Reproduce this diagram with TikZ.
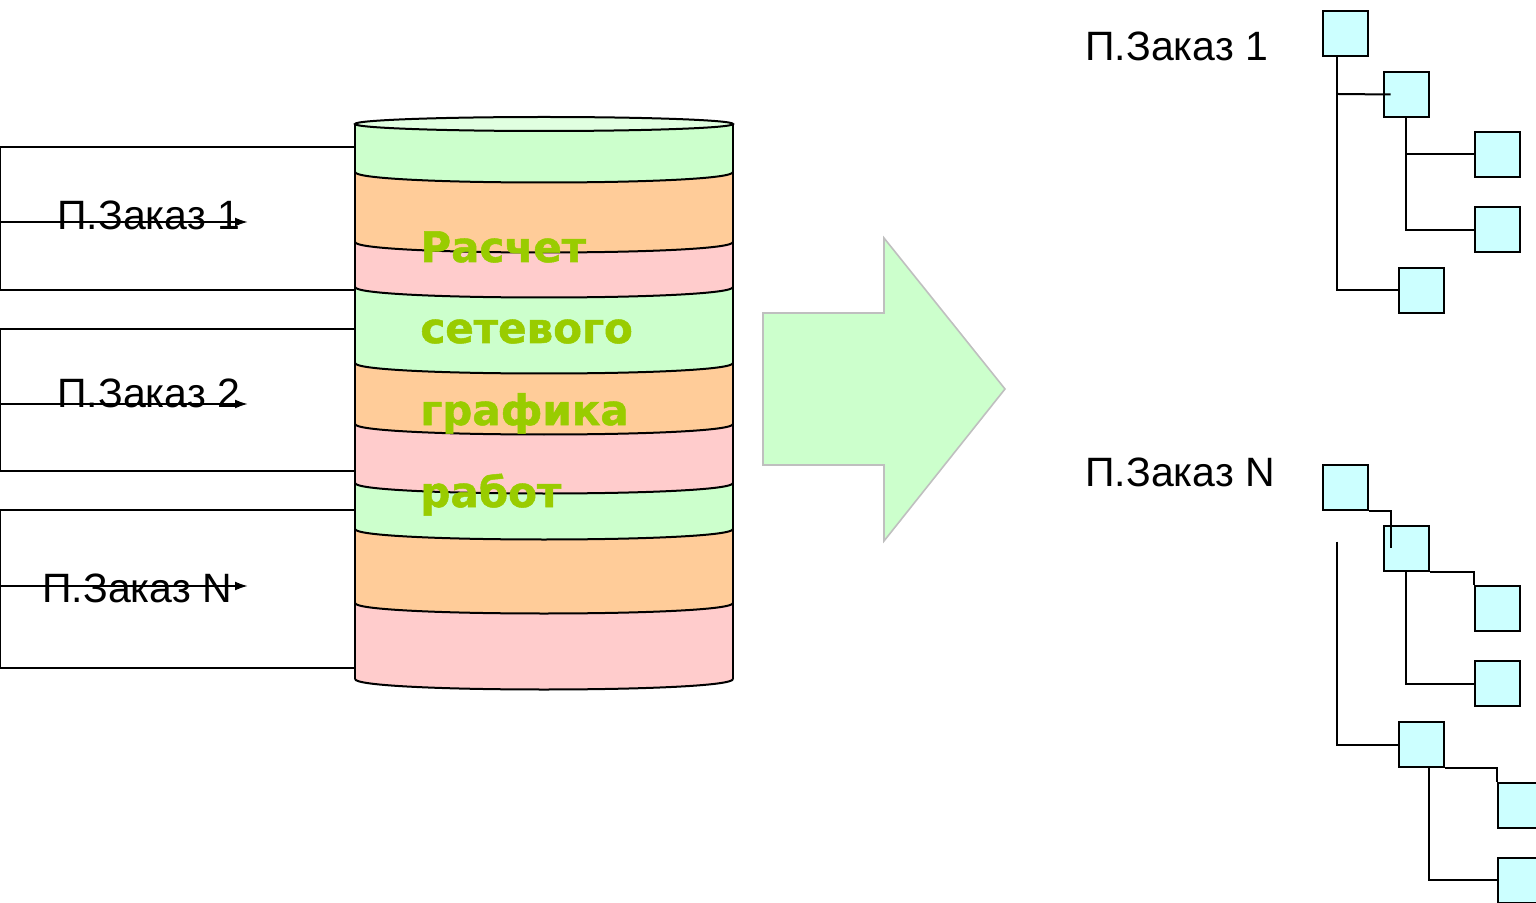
\documentclass[tikz,border=0pt]{standalone}
\usepackage{fontspec}
\setmainfont{Liberation Sans}
\newfontfamily\calcfont{DejaVu Sans}[BoldFeatures={FakeBold=1.2}]
\usetikzlibrary{arrows.meta}
\definecolor{cylgreen}{HTML}{CCFFCC}
\definecolor{cyltop}{HTML}{E0FFE0}
\definecolor{cylorange}{HTML}{FFCC99}
\definecolor{cylpink}{HTML}{FFCCCC}
\definecolor{boxcyan}{HTML}{CCFFFF}
\definecolor{calcgreen}{HTML}{99CC00}
\tikzset{
  orderlabel/.style={anchor=base west,inner sep=0pt,font=\fontsize{20.5}{24}\selectfont},
  calclabel/.style={anchor=base west,inner sep=0pt,text=calcgreen,font=\calcfont\bfseries\fontsize{21}{24}\selectfont},
  treebox/.style={draw,line width=1pt,fill=boxcyan,minimum size=22.5pt,inner sep=0pt},
  treeline/.style={line width=1pt},
  cylline/.style={line width=1pt},
  orderarrow/.style={line width=1pt,-{Latex[length=6.5pt,width=4.5pt]}},
}
\begin{document}
\begin{tikzpicture}[x=0.5pt,y=-0.5pt]
   \useasboundingbox (0,0) rectangle (1536,903);
   \clip (0,0) rectangle (1536,903);
   % orders going in
   \draw [line width=1pt] (0,147) rectangle (355,290);
   \draw [line width=1pt] (0,329) rectangle (355,471);
   \draw [line width=1pt] (0,510) rectangle (355,668);
   \node [orderlabel] (order1) at (57,230) {П.Заказ 1};
   \node [orderlabel] (order2) at (57,408) {П.Заказ 2};
   \node [orderlabel] (orderN) at (42,602) {П.Заказ N};
   \draw [orderarrow] (0,222) -- (248,222);
   \draw [orderarrow] (0,404) -- (248,404);
   \draw [orderarrow] (0,586) -- (248,586);
   % the cylinder
   \fill [cylgreen] (355,124) -- (355,172) .. controls (355,186) and (733,186) .. (733,172) -- (733,124) -- cycle;
   \foreach \yt/\yb/\c in {172/242/cylorange,242/287/cylpink,287/363/cylgreen,363/424/cylorange,
     424/483/cylpink,483/529/cylgreen,529/603/cylorange,603/679/cylpink}
     \fill [\c] (355,\yt) .. controls (355,\yt+14) and (733,\yt+14) .. (733,\yt)
       -- (733,\yb) .. controls (733,\yb+14) and (355,\yb+14) .. (355,\yb) -- cycle;
   \foreach \y in {172,242,287,363,424,483,529,603,679}
     \draw [cylline] (355,\y) .. controls (355,\y+14) and (733,\y+14) .. (733,\y);
   \draw [cylline] (355,124) -- (355,679);
   \draw [cylline] (733,124) -- (733,679);
   \filldraw [cylline,fill=cyltop] (544,124) ellipse [x radius=189,y radius=7];
   \node [calclabel] (calc1) at (420,262) {Расчет};
   \node [calclabel] (calc2) at (420,343) {сетевого};
   \node [calclabel] (calc3) at (420,425) {графика};
   \node [calclabel] (calc4) at (420,507) {работ};
   % big arrow
   \filldraw [fill=cylgreen,draw=black!25,line width=0.8pt] (763,313) -- (884,313) -- (884,238)
     -- (1005,389) -- (884,541) -- (884,465) -- (763,465) -- cycle;
   % trees
   \node [orderlabel] (tree1) at (1085,61) {П.Заказ 1};
   \node [orderlabel] (treeN) at (1085,486) {П.Заказ N};
   \node [treebox] (t1a) at (1345.5,33.5) {};
   \node [treebox] (t1b) at (1406,94.5) {};
   \node [treebox] (t1c) at (1497,154.5) {};
   \node [treebox] (t1d) at (1497,230) {};
   \node [treebox] (t1e) at (1421,290.5) {};
   \draw [treeline] (t1a.south west) ++(15,0) |- (t1e.west);
   \draw [treeline] (1338,94) -- ([xshift=4pt]t1b.west);
   \draw [treeline] (t1b.south) |- (t1d.west);
   \draw [treeline] (t1b.south |- t1c.west) -- (t1c.west);
   \node [treebox] (t2a) at (1345.5,487) {};
   \node [treebox] (t2b) at (1406,548) {};
   \node [treebox] (t2c) at (1497,608.5) {};
   \node [treebox] (t2d) at (1497,683.5) {};
   \node [treebox] (t2e) at (1421,744.5) {};
   \node [treebox] (t2f) at (1520,805) {};
   \node [treebox] (t2g) at (1520,880) {};
   \draw [treeline] (t2a.south east) -| ([xshift=4pt]t2b.west);
   \draw [treeline] (t2b.south east) -| (t2c.north west);
   \draw [treeline] (t2b.south) |- (t2d.west);
   \draw [treeline] (t2a.south west) ++(15,31) |- (t2e.west);
   \draw [treeline] (t2e.south east) -| (t2f.north west);
   \draw [treeline] ([xshift=4pt]t2e.south) |- (t2g.west);
\end{tikzpicture}
\end{document}
